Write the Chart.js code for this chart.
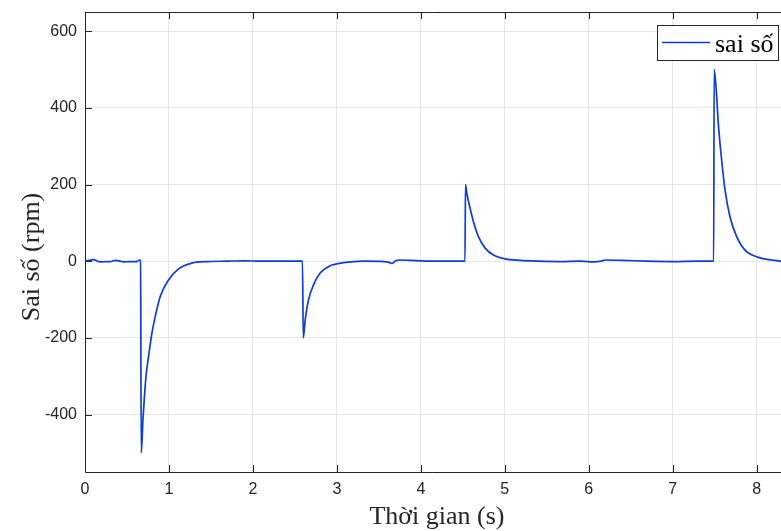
<!DOCTYPE html>
<html>
<head>
<meta charset="utf-8">
<script src="https://cdn.jsdelivr.net/npm/chart.js@4/dist/chart.umd.min.js"></script>
<style>
  html, body { margin: 0; padding: 0; background: #ffffff; overflow: hidden; }
  #wrap { width: 781px; height: 531px; }
</style>
</head>
<body>
<div id="wrap"><canvas id="c" width="781" height="531"></canvas></div>
<script>
// Speed error response (rpm) over time (s)
const timeS = [
  0, 0.05, 0.1, 0.14, 0.18, 0.25, 0.3, 0.36, 0.42, 0.46, 0.52, 0.58, 0.62, 0.645, 0.662,
  0.670, 0.690, 0.708, 0.730, 0.757, 0.797, 0.837, 0.896, 0.995, 1.114, 1.273, 1.47, 1.7, 1.9, 2.1, 2.3, 2.5, 2.59,
  2.6, 2.623, 2.662, 2.722, 2.801, 2.92, 3.08, 3.32, 3.56, 3.62, 3.655, 3.7, 3.75, 3.87, 4.1, 4.34, 4.526,
  4.532, 4.548, 4.587, 4.627, 4.686, 4.766, 4.865, 5.004, 5.18, 5.4, 5.66, 5.9, 6.06, 6.15, 6.2, 6.4, 6.7, 7.0, 7.3, 7.488,
  7.494, 7.524, 7.543, 7.583, 7.623, 7.682, 7.762, 7.861, 8.02, 8.18, 8.3
];
const errorRpm = [
  0, 2, 4, 1, -2, -1, -1, 2, 0, -2, -1, -1, -1, 3, 2,
  -500, -415, -352, -293, -249, -188, -144, -92, -49, -20, -5, -1, 0, 1, 0, 0, 0, 0,
  -200, -153, -101, -62, -31, -12, -4, 0, -1, -3, -6, 1, 3, 2, 0, 0, 0,
  200, 177, 138, 103, 64, 34, 16, 6, 2, 0, -1, 0, -2, 0, 3, 2, 0, -1, 0, 0,
  500, 429, 360, 264, 186, 116, 64, 29, 10, 3, 0
];
const xTicks = [0, 1, 2, 3, 4, 5, 6, 7, 8];
const yTicks = [-400, -200, 0, 200, 400, 600];
const seriesName = 'sai số';
const xTitle = 'Thời gian (s)';
const yTitle = 'Sai số (rpm)';

const axisColor = '#262626';
const lineColor = '#0f3cd8';
const tickFont = { family: "'Liberation Sans', Arial, sans-serif", size: 16 };
const serifFont = "'Liberation Serif', 'Times New Roman', serif";

// Frame, inward tick marks, axis titles and legend box
const framePlugin = {
  id: 'frame',
  afterDraw(chart) {
    const { ctx, chartArea: a, scales: { x, y } } = chart;
    ctx.save();
    ctx.strokeStyle = axisColor;
    ctx.lineWidth = 1;
    ctx.beginPath();
    ctx.moveTo(a.left + 0.5, a.top + 0.5);
    ctx.lineTo(a.left + 0.5, a.bottom + 0.5);
    ctx.lineTo(a.right, a.bottom + 0.5);
    ctx.moveTo(a.left + 0.5, a.top + 0.5);
    ctx.lineTo(a.right, a.top + 0.5);
    const tl = 7;
    xTicks.forEach(v => {
      const px = Math.round(x.getPixelForValue(v)) + 0.5;
      ctx.moveTo(px, a.bottom); ctx.lineTo(px, a.bottom - tl);
      ctx.moveTo(px, a.top); ctx.lineTo(px, a.top + tl);
    });
    yTicks.forEach(v => {
      const py = Math.round(y.getPixelForValue(v)) + 0.5;
      ctx.moveTo(a.left, py); ctx.lineTo(a.left + tl, py);
    });
    ctx.stroke();

    // axis titles
    ctx.fillStyle = axisColor;
    ctx.font = `26px ${serifFont}`;
    ctx.textAlign = 'center';
    ctx.textBaseline = 'middle';
    ctx.fillText(xTitle, 437, 517);
    ctx.save();
    ctx.translate(32, 257);
    ctx.rotate(-Math.PI / 2);
    ctx.fillText(yTitle, 0, 0);
    ctx.restore();

    // legend
    const lx = 657, ly = 25, lw = 121, lh = 35;
    ctx.fillStyle = '#ffffff';
    ctx.fillRect(lx, ly, lw, lh);
    ctx.strokeStyle = axisColor;
    ctx.strokeRect(lx + 0.5, ly + 0.5, lw, lh);
    ctx.strokeStyle = lineColor;
    ctx.lineWidth = 1.5;
    ctx.beginPath();
    ctx.moveTo(662, 42.5);
    ctx.lineTo(710, 42.5);
    ctx.stroke();
    ctx.fillStyle = '#000000';
    ctx.textAlign = 'left';
    ctx.textBaseline = 'alphabetic';
    ctx.font = `26px ${serifFont}`;
    ctx.fillText(chart.data.datasets[0].label, 715, 52);
    ctx.restore();
  }
};

new Chart(document.getElementById('c'), {
  type: 'line',
  data: {
    datasets: [{
      label: seriesName,
      data: timeS.map((t, i) => ({ x: t, y: errorRpm[i] })),
      borderColor: lineColor,
      borderWidth: 1.7,
      pointRadius: 0,
      fill: false,
      cubicInterpolationMode: 'monotone'
    }]
  },
  options: {
    responsive: false,
    animation: false,
    devicePixelRatio: 1,
    layout: { padding: { top: 12, right: 0, left: 0, bottom: 0 } },
    plugins: { legend: { display: false }, tooltip: { enabled: false } },
    scales: {
      x: {
        type: 'linear',
        min: 0,
        max: 8.29,
        afterBuildTicks: s => { s.ticks = xTicks.map(v => ({ value: v })); },
        afterFit: s => { s.height = 59; s.paddingLeft = 0; s.paddingRight = 0; },
        ticks: { font: tickFont, color: axisColor, padding: 8, maxRotation: 0 },
        grid: { color: '#e6e6e6', drawTicks: false },
        border: { display: false }
      },
      y: {
        type: 'linear',
        min: -550,
        max: 650,
        afterBuildTicks: s => { s.ticks = yTicks.map(v => ({ value: v })); },
        afterFit: s => { s.width = 85; s.paddingTop = 0; s.paddingBottom = 0; },
        ticks: { font: tickFont, color: axisColor, padding: 8 },
        grid: { color: '#e6e6e6', drawTicks: false },
        border: { display: false }
      }
    }
  },
  plugins: [framePlugin]
});
</script>
</body>
</html>
